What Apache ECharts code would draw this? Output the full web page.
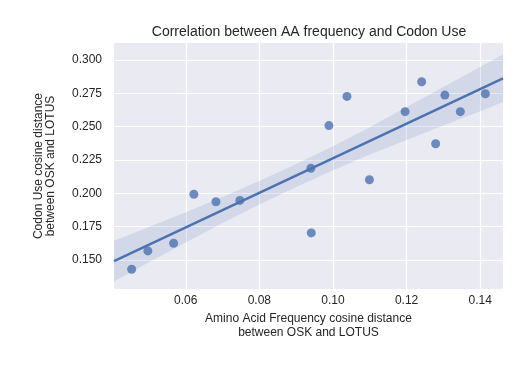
<!DOCTYPE html>
<html>
<head>
<meta charset="utf-8">
<script src="https://cdn.jsdelivr.net/npm/echarts@6/dist/echarts.min.js"></script>
<style>
  html, body { margin: 0; padding: 0; background: #fff; }
  #main { width: 525px; height: 371px; }
</style>
</head>
<body>
<div id="main"></div>
<script>
// data
var aaFreq = [0.0453, 0.0497, 0.0567, 0.0622, 0.0682, 0.0747, 0.0940, 0.0941, 0.0989,
              0.1038, 0.1099, 0.1196, 0.1241, 0.1279, 0.1304, 0.1346, 0.1414];
var codonUse = [0.143, 0.1568, 0.1625, 0.1993, 0.1937, 0.1947, 0.2188, 0.1703, 0.2508,
                0.2727, 0.2102, 0.2613, 0.2837, 0.2372, 0.2737, 0.2613, 0.2747];
// half width of the confidence band, read at a few x positions
var bandX = [0.0405, 0.05, 0.06, 0.07, 0.08, 0.09, 0.10, 0.11, 0.12, 0.13, 0.14, 0.1462];
var ciHalf = [0.0153, 0.0132, 0.0113, 0.0098, 0.0089, 0.0086, 0.0090, 0.0103, 0.0124, 0.0145, 0.0166, 0.0178];
var xTicks = [0.06, 0.08, 0.10, 0.12, 0.14];
var yTicks = [0.150, 0.175, 0.200, 0.225, 0.250, 0.275, 0.300];

var xMin = 0.0405, xMax = 0.1462;
var yMin = 0.1282, yMax = 0.3128;

// least squares fit
var n = aaFreq.length;
var mx = 0, my = 0;
for (var i = 0; i < n; i++) { mx += aaFreq[i]; my += codonUse[i]; }
mx /= n; my /= n;
var sxx = 0, sxy = 0;
for (var i = 0; i < n; i++) {
  sxx += (aaFreq[i] - mx) * (aaFreq[i] - mx);
  sxy += (aaFreq[i] - mx) * (codonUse[i] - my);
}
var slope = sxy / sxx;
var icpt = my - slope * mx;

var fitLine = [[xMin, icpt + slope * xMin], [xMax, icpt + slope * xMax]];
var bandUp = [], bandLow = [];
bandX.forEach(function (x, k) {
  var yhat = icpt + slope * x;
  bandUp.push([x, yhat + ciHalf[k]]);
  bandLow.push([x, yhat - ciHalf[k]]);
});

var points = aaFreq.map(function (v, i) { return [v, codonUse[i]]; });

var myChart = echarts.init(document.getElementById("main"));
var txt = "#262626";
myChart.setOption({
  backgroundColor: "#fff",
  animation: false,
  title: {
    text: "Correlation between AA frequency and Codon Use",
    left: 304,
    top: 20,
    textAlign: "center",
    textStyle: { fontFamily: "Liberation Sans", fontSize: 14, fontWeight: "normal", color: txt }
  },
  grid: { left: 114, right: 22, top: 43, bottom: 82, show: true, backgroundColor: "#EAEAF2", borderWidth: 0 },
  xAxis: {
    type: "value",
    min: xMin,
    max: xMax,
    name: "Amino Acid Frequency cosine distance\nbetween OSK and LOTUS",
    nameLocation: "middle",
    nameGap: 22,
    nameTextStyle: { fontFamily: "Liberation Sans", fontSize: 12, color: txt, lineHeight: 14, verticalAlign: "top" },
    axisLine: { show: false },
    axisTick: { show: false, customValues: xTicks },
    axisLabel: {
      customValues: xTicks,
      fontFamily: "Liberation Sans", fontSize: 12, color: txt, margin: 6,
      formatter: function (v) { return v.toFixed(2); }
    },
    splitLine: { show: true, lineStyle: { color: "#fff", width: 1.2 } }
  },
  yAxis: {
    type: "value",
    min: yMin,
    max: yMax,
    name: "Codon Use cosine distance\nbetween OSK and LOTUS",
    nameLocation: "middle",
    nameGap: 57,
    nameRotate: 90,
    nameTextStyle: { fontFamily: "Liberation Sans", fontSize: 12, color: txt, lineHeight: 12 },
    axisLine: { show: false },
    axisTick: { show: false, customValues: yTicks },
    axisLabel: {
      customValues: yTicks,
      fontFamily: "Liberation Sans", fontSize: 12, color: txt, margin: 12,
      formatter: function (v) { return v.toFixed(3); }
    },
    splitLine: { show: true, lineStyle: { color: "#fff", width: 1.2 } }
  },
  series: [
    {
      // confidence band as one polygon
      type: "custom",
      silent: true,
      clip: true,
      data: [0],
      renderItem: function (params, api) {
        var pts = [];
        bandUp.forEach(function (p) { pts.push(api.coord(p)); });
        for (var j = bandLow.length - 1; j >= 0; j--) pts.push(api.coord(bandLow[j]));
        return {
          type: "polygon",
          shape: { points: pts },
          style: { fill: "rgba(76,114,176,0.15)" }
        };
      }
    },
    {
      type: "line", data: fitLine, symbol: "none",
      lineStyle: { color: "#4C72B0", width: 2.5 }
    },
    {
      type: "scatter", data: points, symbolSize: 9,
      itemStyle: { color: "#4C72B0", opacity: 0.8 }
    }
  ]
});
</script>
</body>
</html>
